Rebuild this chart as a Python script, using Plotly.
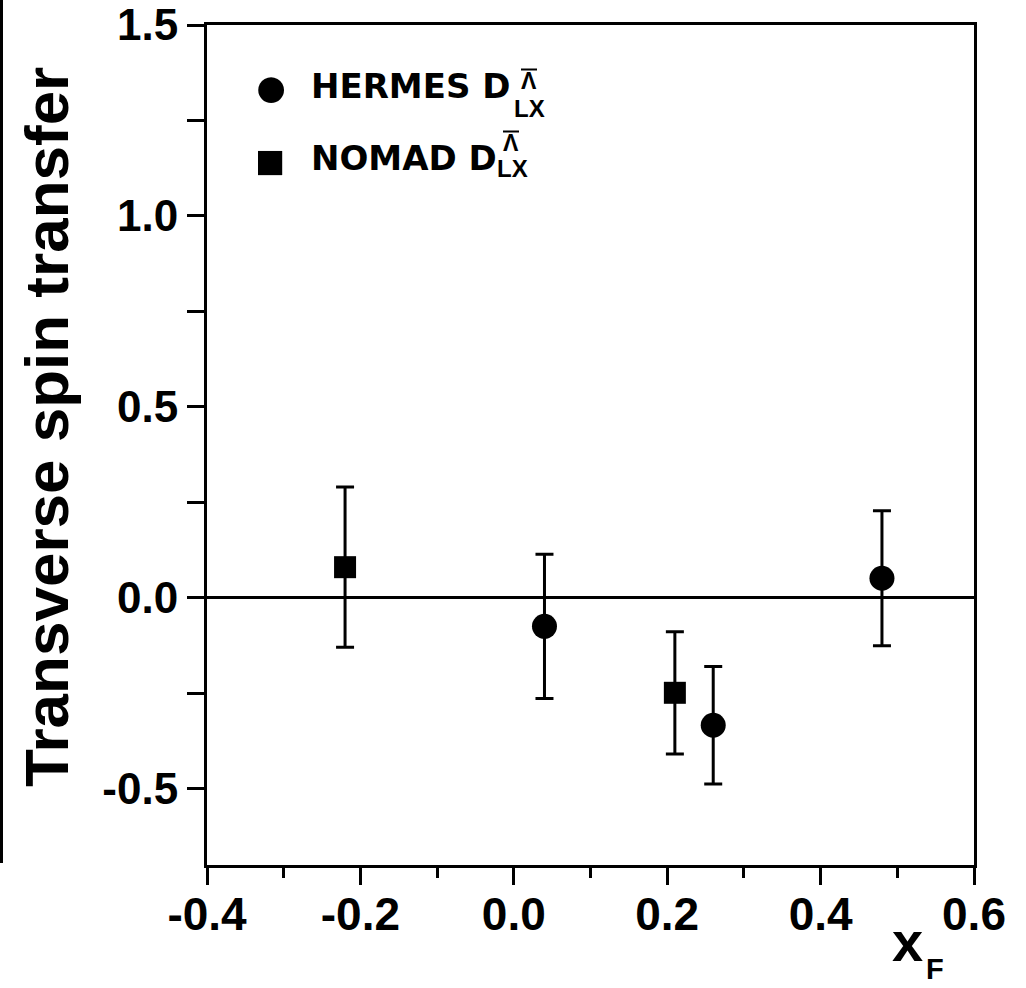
import plotly.graph_objects as go

# ---- data ----
hermes_x = [0.04, 0.26, 0.48]
hermes_y = [-0.075, -0.334, 0.051]
hermes_err = [0.189, 0.154, 0.177]

nomad_x = [-0.22, 0.21]
nomad_y = [0.080, -0.249]
nomad_err = [0.210, 0.160]

x_tickvals = [-0.4, -0.2, 0.0, 0.2, 0.4, 0.6]
x_ticktext = ["-0.4", "-0.2", "0.0", "0.2", "0.4", "0.6"]
x_minorvals = [-0.3, -0.1, 0.1, 0.3, 0.5]
y_tickvals = [-0.5, 0.0, 0.5, 1.0, 1.5]
y_ticktext = ["-0.5", "0.0", "0.5", "1.0", "1.5"]
y_minorvals = [-0.25, 0.25, 0.75, 1.25]

legend_names = ["HERMES D", "NOMAD D"]
legend_symbols = ["●", "■"]

W, H = 1026, 988
L, R, T, B = 207, 52, 25, 123
PW, PH = W - L - R, H - T - B

def px(xp):
    return (xp - L) / PW

def py(yp):
    return (H - B - yp) / PH

FONT = "Liberation Sans, Arial, sans-serif"
LEGFONT = "DejaVu Sans, Liberation Sans, sans-serif"

fig = go.Figure()
fig.add_trace(go.Scatter(
    x=hermes_x, y=hermes_y, mode="markers", name=legend_names[0],
    marker=dict(symbol="circle", size=25, color="black"),
    error_y=dict(type="data", array=hermes_err, visible=True,
                 color="black", thickness=3, width=9),
    showlegend=False,
))
fig.add_trace(go.Scatter(
    x=nomad_x, y=nomad_y, mode="markers", name=legend_names[1],
    marker=dict(symbol="square", size=22, color="black"),
    error_y=dict(type="data", array=nomad_err, visible=True,
                 color="black", thickness=3, width=9),
    showlegend=False,
))

annotations = [
    # legend rows
    dict(text=legend_symbols[0], x=px(271), y=py(87), font=dict(size=60, family=FONT)),
    dict(text=legend_names[0], x=px(309), y=py(86), xanchor="left",
         font=dict(size=34, family=LEGFONT)),
    dict(text="Λ", x=px(529), y=py(81), font=dict(size=23)),
    dict(text="LX", x=px(529), y=py(108.5), font=dict(size=24)),
    dict(text=legend_symbols[1], x=px(270), y=py(161), font=dict(size=50, family=FONT)),
    dict(text=legend_names[1], x=px(309), y=py(157.5), xanchor="left",
         font=dict(size=34, family=LEGFONT)),
    dict(text="Λ", x=px(511), y=py(143), font=dict(size=23)),
    dict(text="LX", x=px(512), y=py(169), font=dict(size=24)),
    # axis titles
    dict(text="Transverse spin transfer", x=px(46.5), y=py(427.5),
         textangle=-90, font=dict(size=62)),
    dict(text="x", x=px(907), y=py(942), font=dict(size=56)),
    dict(text="F", x=px(935), y=py(987), yanchor="bottom", font=dict(size=29)),
]
for a in annotations:
    a.setdefault("yanchor", "middle")
    a.setdefault("xanchor", "center")
    a.update(xref="paper", yref="paper", showarrow=False)
    a["font"].setdefault("family", FONT)
    a["font"].update(color="black", weight="bold")

shapes = [
    dict(type="line", xref="paper", yref="paper",
         x0=px(1.5), x1=px(1.5), y0=py(0), y1=py(863),
         line=dict(color="black", width=3)),
    # overbars of the anti-Lambda symbols
    dict(type="line", xref="paper", yref="paper",
         x0=px(521), x1=px(537), y0=py(69.5), y1=py(69.5),
         line=dict(color="black", width=2)),
    dict(type="line", xref="paper", yref="paper",
         x0=px(503), x1=px(519), y0=py(131.5), y1=py(131.5),
         line=dict(color="black", width=2)),
]

fig.update_layout(
    width=W, height=H,
    margin=dict(l=L, r=R, t=T, b=B, pad=0, autoexpand=False),
    paper_bgcolor="white", plot_bgcolor="white",
    showlegend=False,
    font=dict(family=FONT, color="black", weight="bold"),
    annotations=annotations,
    shapes=shapes,
)

fig.update_xaxes(
    range=[-0.4, 0.6], showgrid=False, zeroline=False, automargin=False,
    showline=True, linewidth=3, linecolor="black", mirror=True,
    tickmode="array", tickvals=x_tickvals, ticktext=x_ticktext,
    ticks="outside", ticklen=17, tickwidth=2.5, tickcolor="black",
    ticklabelstandoff=-10,
    tickfont=dict(family=FONT, size=46, color="black", weight="bold"),
    minor=dict(tickmode="array", tickvals=x_minorvals, ticks="outside",
               ticklen=10, tickwidth=2.5, tickcolor="black", showgrid=False),
)
fig.update_yaxes(
    range=[-0.7, 1.5], showgrid=False, automargin=False,
    zeroline=True, zerolinewidth=2.5, zerolinecolor="black",
    showline=True, linewidth=3, linecolor="black", mirror=True,
    tickmode="array", tickvals=y_tickvals, ticktext=y_ticktext,
    ticks="outside", ticklen=17, tickwidth=2.5, tickcolor="black",
    tickfont=dict(family=FONT, size=44, color="black", weight="bold"),
    minor=dict(tickmode="array", tickvals=y_minorvals, ticks="outside",
               ticklen=17, tickwidth=2.5, tickcolor="black", showgrid=False),
)

fig.write_html("out.html")
